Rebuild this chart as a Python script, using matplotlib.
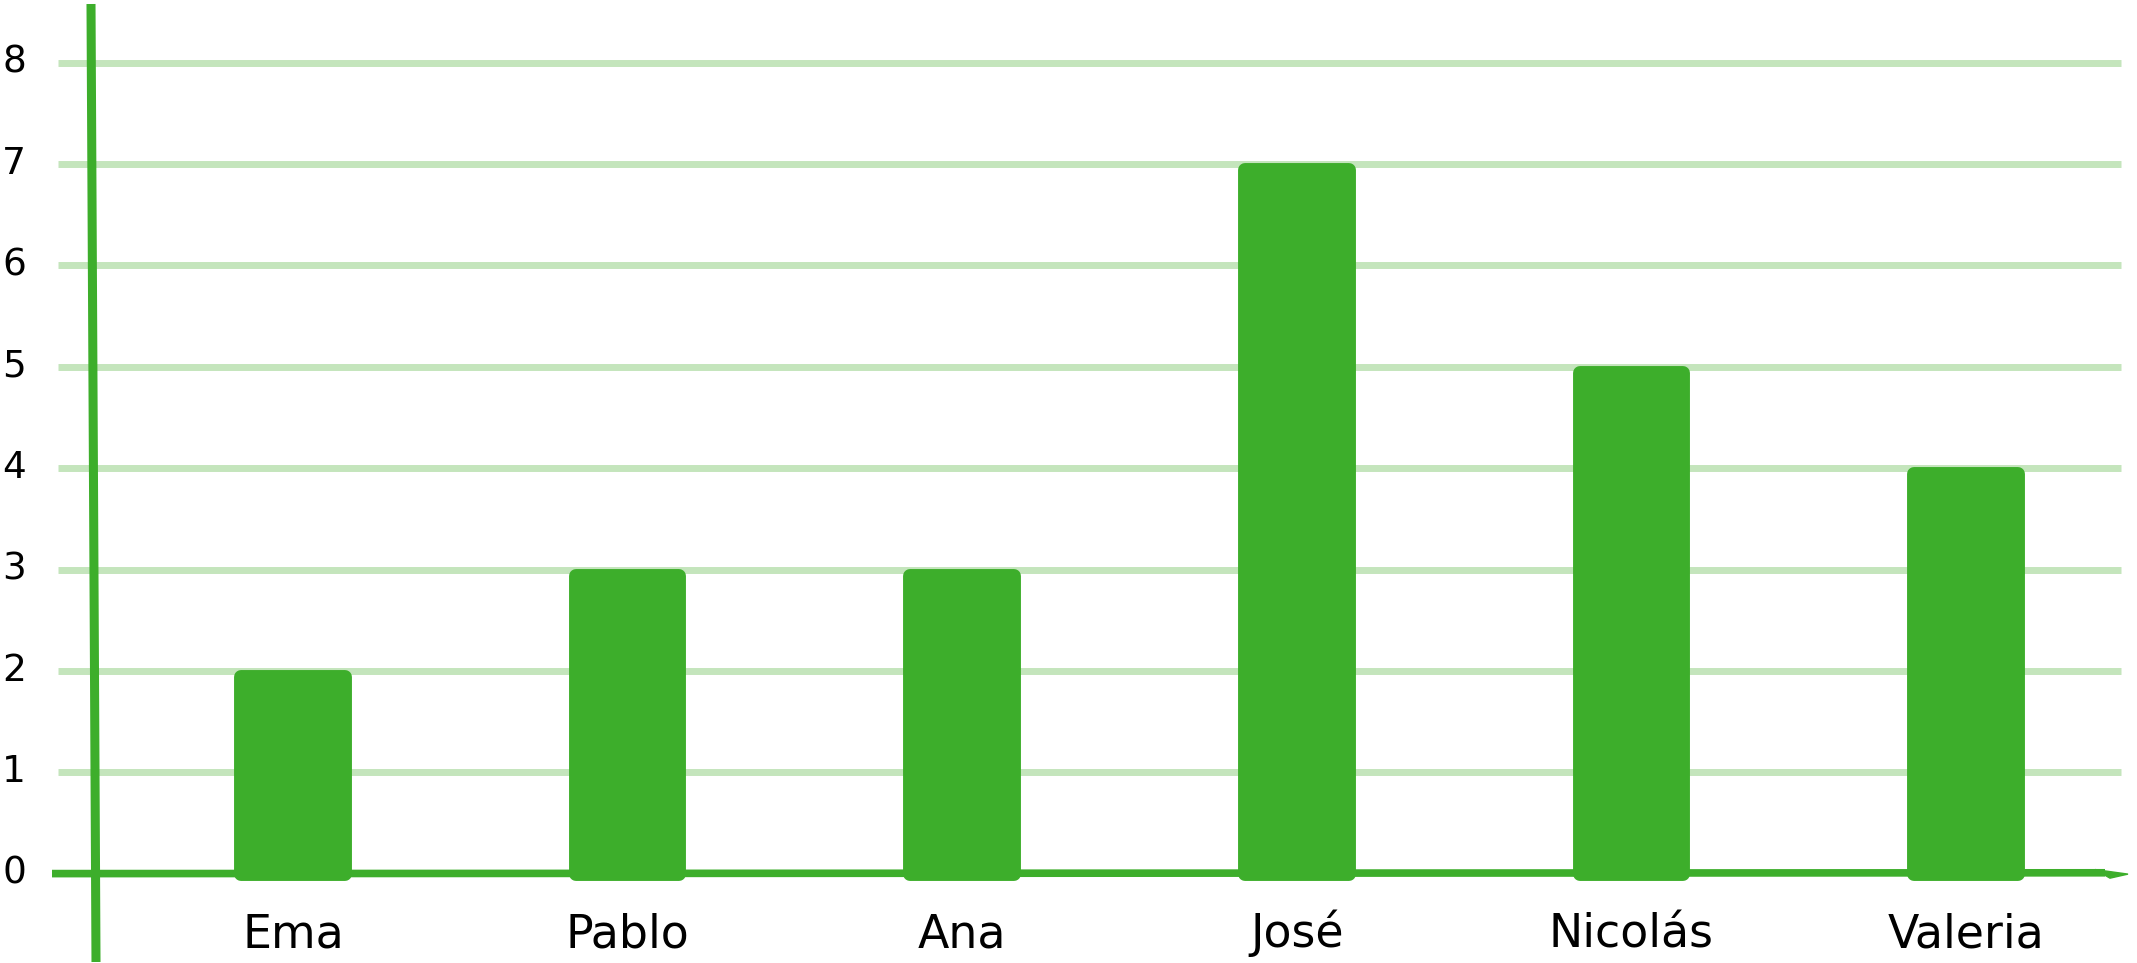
import matplotlib.pyplot as plt

names = ['Ema', 'Pablo', 'Ana', 'José', 'Nicolás', 'Valeria']
values = [2, 3, 3, 7, 5, 4]
y_ticks = [0, 1, 2, 3, 4, 5, 6, 7, 8]

bar_color = '#3dae2b'
grid_color = '#c4e5bc'

W, H = 2137, 963
fig = plt.figure(figsize=(W / 100, H / 100), dpi=100)
ax = fig.add_axes([0, 0, 1, 1])

# pixel layout of the reference: first bar centre, bar spacing, zero line, unit height
x0_px, dx_px = 293, 334.6
y0_px, dy_px = 89.4, 101.36
ax.set_xlim(-x0_px / dx_px, (W - x0_px) / dx_px)
ax.set_ylim(-y0_px / dy_px, (H - y0_px) / dy_px)
ax.axis('off')

def px_x(p):
    return (p - x0_px) / dx_px

# grid lines
ax.hlines(y_ticks[1:], px_x(58), px_x(2121), color=grid_color, lw=5, zorder=1)

# bars with rounded corners (thick round-joined edge)
xs = list(range(len(names)))
ax.bar(xs, [v - 0.06 for v in values], width=0.31, color=bar_color,
       edgecolor=bar_color, linewidth=10, joinstyle='round', zorder=3)

# axes lines
ax.plot([px_x(52), px_x(2105)], [0, 0.008], color=bar_color, lw=5.5,
        solid_capstyle='butt', zorder=4)
ax.fill([px_x(2095), px_x(2128), px_x(2110)], [0.04, -0.005, -0.045],
        color=bar_color, zorder=4)
ax.plot([px_x(91), px_x(96)], [(H - 4 - y0_px) / dy_px, (1 - y0_px) / dy_px],
        color=bar_color, lw=6.5, solid_capstyle='butt', zorder=4)

# labels
for x, name in zip(xs, names):
    ax.text(x, (16 - y0_px) / dy_px, name, ha='center', va='baseline',
            fontsize=33, family='DejaVu Sans', color='black')
for t in y_ticks:
    ax.text(px_x(14), t, str(t), ha='center', va='center',
            fontsize=27, family='DejaVu Sans', color='black')

fig.savefig('out.png', dpi=100)
